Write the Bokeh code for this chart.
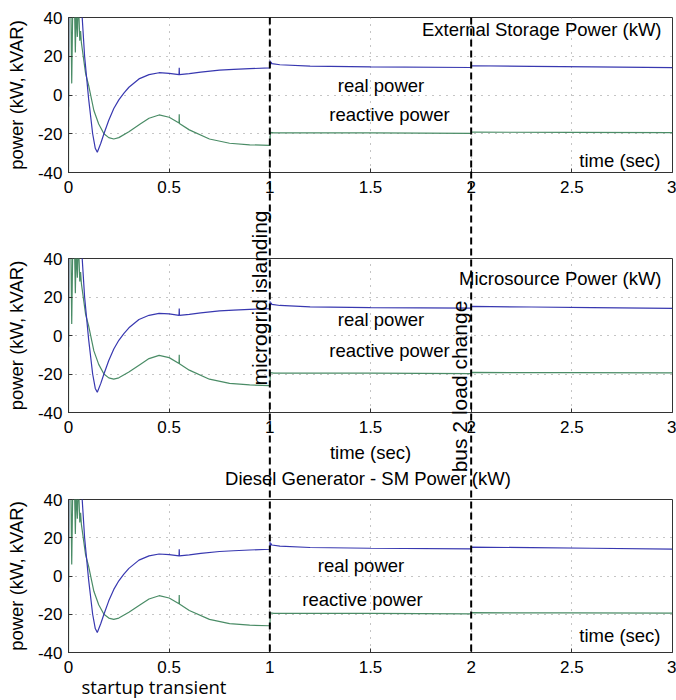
from math import pi
from bokeh.plotting import figure
from bokeh.layouts import column
from bokeh.models import Range1d, FixedTicker, Label, ColumnDataSource
from bokeh.embed import file_html
from bokeh.resources import INLINE

# ---------------- data ----------------
x_ticks = [0, 0.5, 1, 1.5, 2, 2.5, 3]
x_tick_labels = ["0", "0.5", "1", "1.5", "2", "2.5", "3"]
y_ticks = [-40, -20, 0, 20, 40]
y_tick_labels = ["-40", "-20", "0", "20", "40"]

# real power (kW), blue
real_t = [0, 0.001, 0.06, 0.068, 0.08, 0.1, 0.12, 0.133, 0.143, 0.16, 0.176, 0.2,
          0.225, 0.25, 0.275, 0.3, 0.35, 0.4, 0.45, 0.5, 0.549, 0.55, 0.551, 0.6,
          0.657, 0.75, 0.82, 0.9, 0.999, 1.0, 1.001, 1.003, 1.006, 1.01, 1.05, 1.2,
          1.5, 1.999, 2.0, 2.002, 2.3, 2.6, 3.0]
real_v = [-6, 60, 60, 40, 20, -2, -20, -27.5, -29.5, -25, -20, -13,
          -7, -2.5, 1, 4, 8.3, 10.5, 11.5, 11.2, 10.5, 14, 10.5, 11,
          11.8, 12.8, 13.2, 13.6, 14, 14, 17.8, 15.5, 17, 16.2, 15.6, 14.9,
          14.5, 14.2, 14.2, 15.1, 14.8, 14.5, 14.1]

# reactive power (kVAR), green
reac_t = [0, 0.002, 0.012, 0.016, 0.021, 0.03, 0.034, 0.038, 0.044, 0.048, 0.052,
          0.056, 0.06, 0.064, 0.068, 0.076, 0.085, 0.1, 0.126, 0.15, 0.176, 0.2,
          0.225, 0.25, 0.3, 0.358, 0.4, 0.45, 0.5, 0.549, 0.55, 0.551, 0.6, 0.7,
          0.8, 0.9, 0.999, 1.0, 1.003, 1.02, 1.5, 1.999, 2.0, 2.002, 2.5, 3.0]
reac_v = [-40, 45, 45, 6, 45, 45, 22, 45, 30, 45, 41,
          28, 33, 27, 24, 17.8, 11, 5, -8, -15, -20, -22,
          -22.7, -22, -19, -14.9, -12, -10.3, -11.5, -14.5, -10, -14.7, -18, -22.7,
          -24.9, -25.7, -26, -26, -19.3, -19.5, -19.5, -19.8, -19.8, -19.2, -19.3, -19.4]

event_t = [1, 2]
event_labels = ["microgrid islanding", "bus 2 load change"]
panel_titles = ["External Storage Power (kW)", "Microsource Power (kW)",
                "Diesel Generator - SM  Power (kW)"]

# ---------------- styling / layout ----------------
FONT = "Liberation Sans"
BLUE = "#3838b0"
GREEN = "#4a8c66"
FRAME = "#333333"
W, H = 676, 700
FL, FR = 68, 672            # frame left / right (px)
S = (FR - FL) / 3.0         # px per second
TXT = "18.5px"


def tx(px):
    """page x pixel -> time value"""
    return (px - FL) / S


def vy(px, top, bot):
    """page y pixel -> value in a panel whose frame spans top..bot px"""
    return 40 - (px - top) * 80.0 / (bot - top)


src_real = ColumnDataSource(dict(t=real_t, v=real_v))
src_reac = ColumnDataSource(dict(t=reac_t, v=reac_v))


def make_panel(height, top_b, bot_b, xlabel=None):
    p = figure(width=W, height=height, x_range=Range1d(0, 3), y_range=Range1d(-40, 40),
               output_backend="svg", toolbar_location=None,
               min_border_left=FL, min_border_right=W - FR,
               min_border_top=top_b, min_border_bottom=bot_b,
               outline_line_color=FRAME, outline_line_width=1,
               background_fill_color="white", border_fill_color="white")
    xo = {t: l for t, l in zip(x_ticks, x_tick_labels)}
    yo = {t: l for t, l in zip(y_ticks, y_tick_labels)}
    for ax, ticks, ov in ((p.xaxis[0], x_ticks, xo), (p.yaxis[0], y_ticks, yo)):
        ax.ticker = FixedTicker(ticks=ticks)
        ax.major_label_overrides = ov
        ax.major_tick_in = 4
        ax.major_tick_out = 0
        ax.minor_tick_in = 0
        ax.minor_tick_out = 0
        ax.axis_line_color = FRAME
        ax.major_tick_line_color = FRAME
        ax.major_label_text_font = FONT
        ax.major_label_text_font_size = "17px"
        ax.major_label_text_color = "black"
        ax.axis_label_text_font = FONT
        ax.axis_label_text_font_style = "normal"
        ax.axis_label_text_font_size = TXT
        ax.axis_label_text_color = "black"
    p.xaxis[0].major_label_standoff = 8
    p.yaxis[0].major_label_standoff = 6
    p.yaxis[0].axis_label = "power (kW, kVAR)"
    p.yaxis[0].axis_label_standoff = 8
    if xlabel:
        p.xaxis[0].axis_label = xlabel
        p.xaxis[0].axis_label_standoff = 6
    for g, ticks in ((p.xgrid[0], x_ticks), (p.ygrid[0], y_ticks)):
        g.ticker = FixedTicker(ticks=ticks)
        g.grid_line_color = "#8a8a8a"
        g.grid_line_dash = "1 6"
        g.grid_line_width = 1
    p.line("t", "v", source=src_reac, line_color=GREEN, line_width=1.2)
    p.line("t", "v", source=src_real, line_color=BLUE, line_width=1.2)
    return p


def label(p, x, y, text, align="center", size=TXT, font=FONT, angle=0):
    p.add_layout(Label(x=x, y=y, text=text, text_align=align, text_baseline="middle",
                       text_font=font, text_font_size=size, text_color="black",
                       angle=angle))


# panel 1 : page px 0..200, frame 17..172
T1, B1 = 17, 172
p1 = make_panel(200, T1, 200 - B1)
label(p1, tx(661), vy(28.5, T1, B1), panel_titles[0], align="right")
label(p1, tx(380.5), vy(84.5, T1, B1), "real power")
label(p1, tx(389), vy(113.5, T1, B1), "reactive power")
label(p1, tx(660), vy(160, T1, B1), "time (sec)", align="right")

# panel 2 : page px 200..490, frame 258..412
T2, B2 = 258, 412
p2 = make_panel(290, T2 - 200, 490 - B2, xlabel="time (sec)")
label(p2, tx(661), vy(277.5, T2, B2), panel_titles[1], align="right")
label(p2, tx(380.5), vy(318.5, T2, B2), "real power")
label(p2, tx(389), vy(350, T2, B2), "reactive power")

# panel 3 : page px 490..700, frame 499..652
T3, B3 = 499, 652
p3 = make_panel(210, T3 - 490, 700 - B3)
label(p3, tx(360.5), vy(565, T3, B3), "real power")
label(p3, tx(362), vy(598.5, T3, B3), "reactive power")
label(p3, tx(660), vy(634.5, T3, B3), "time (sec)", align="right")

panels = column(p1, p2, p3, spacing=0)

# transparent overlay spanning all panels: event lines and texts between panels
ov = figure(width=W, height=H, x_range=Range1d(-FL / S, (W - FL) / S),
            y_range=Range1d(H, 0), x_axis_type=None, y_axis_type=None,
            output_backend="svg", toolbar_location=None, min_border=0,
            outline_line_color=None, background_fill_color=None, border_fill_color=None,
            styles={"position": "absolute", "top": "0px", "left": "0px"})
ev_src = ColumnDataSource(dict(t=event_t))
ov.segment(x0="t", y0=T1, x1="t", y1=B3, source=ev_src,
           line_color="black", line_width=2, line_dash="7 4")
label(ov, tx(259), 297.5, event_labels[0], size="21px", angle=pi / 2)
label(ov, tx(458.5), 386, event_labels[1], size="21px", angle=pi / 2)
label(ov, tx(370), 478, panel_titles[2])
label(ov, tx(153.5), 686, "startup transient", size="18.5px", font="Open Sans")

open("out.html", "w").write(file_html([panels, ov], INLINE))
